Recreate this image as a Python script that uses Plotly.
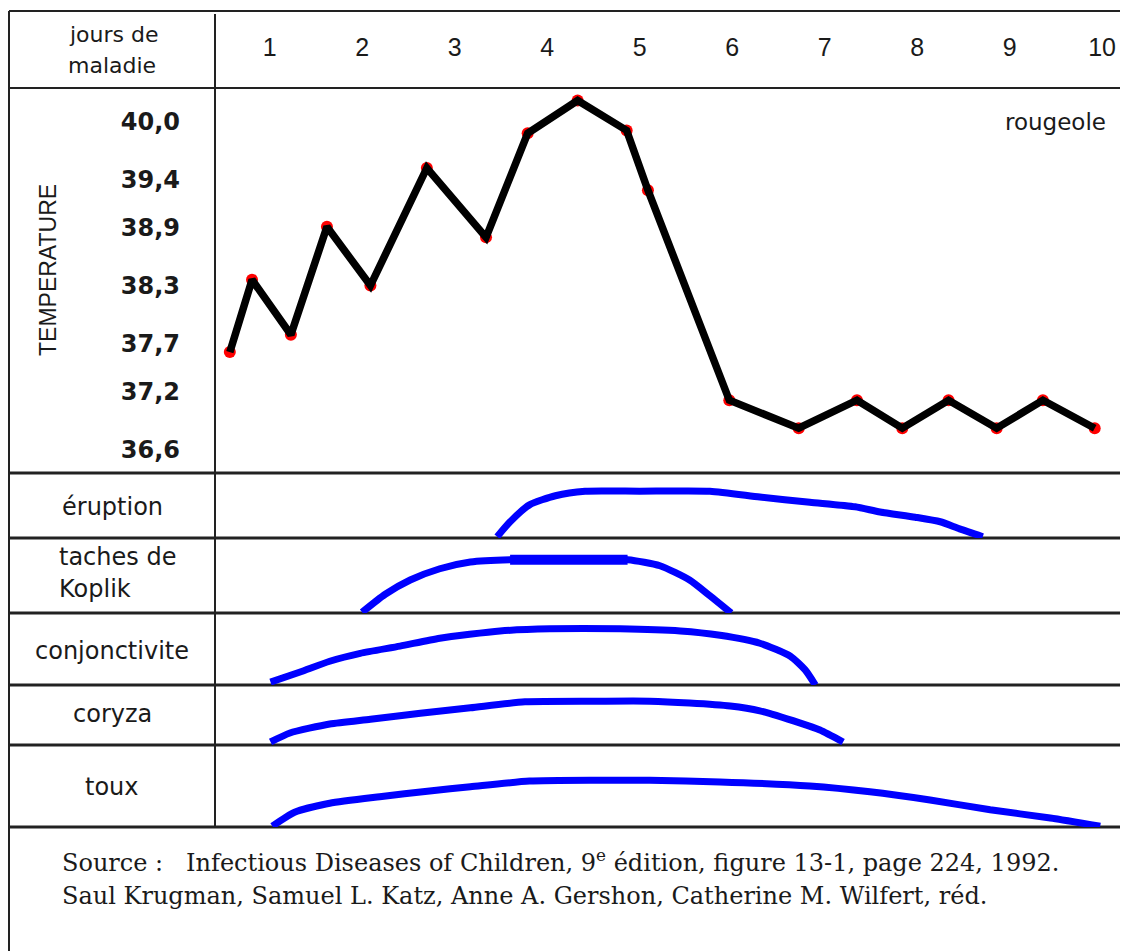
import plotly.graph_objects as go

# ---------------- data ----------------
days = [1, 2, 3, 4, 5, 6, 7, 8, 9, 10]
day_labels = ["1", "2", "3", "4", "5", "6", "7", "8", "9", "10"]

temp_ticks = [36.6, 37.2, 37.7, 38.3, 38.9, 39.4, 40.0]
temp_tick_labels = ["36,6", "37,2", "37,7", "38,3", "38,9", "39,4", "40,0"]

temp_day = [0.57, 0.81, 1.23, 1.62, 2.09, 2.70, 3.34, 3.79, 4.33, 4.86, 5.09,
            5.97, 6.72, 7.35, 7.84, 8.34, 8.86, 9.36, 9.92]
temp_val = [37.61, 38.36, 37.79, 38.91, 38.30, 39.52, 38.80, 39.88, 40.22, 39.91, 39.29,
            37.11, 36.82, 37.11, 36.82, 37.11, 36.82, 37.11, 36.82]

eruption_day = [3.46, 3.60, 3.81, 4.09, 4.41, 5.00, 5.76, 6.30, 6.84, 7.33, 7.60, 7.98, 8.25, 8.46, 8.71]
eruption_lvl = [0.02, 0.25, 0.51, 0.65, 0.72, 0.72, 0.72, 0.63, 0.55, 0.48, 0.40, 0.32, 0.25, 0.14, 0.02]

koplik_day = [2.00, 2.25, 2.52, 2.84, 3.17, 3.60, 4.14, 4.87, 5.22, 5.54, 5.76, 5.99]
koplik_lvl = [0.01, 0.25, 0.44, 0.59, 0.68, 0.71, 0.71, 0.71, 0.63, 0.44, 0.23, 0.00]
koplik_peak_day = [3.60, 4.14, 4.87]
koplik_peak_lvl = [0.71, 0.71, 0.71]

conj_day = [1.01, 1.33, 1.65, 1.98, 2.41, 2.84, 3.49, 4.03, 4.79, 5.44, 5.87, 6.30, 6.63, 6.79, 6.90]
conj_lvl = [0.04, 0.18, 0.33, 0.44, 0.54, 0.65, 0.75, 0.78, 0.78, 0.75, 0.69, 0.58, 0.40, 0.21, 0.00]

coryza_day = [1.01, 1.22, 1.65, 2.09, 2.63, 3.17, 3.76, 4.57, 5.11, 5.54, 5.98, 6.30, 6.73, 6.95, 7.20]
coryza_lvl = [0.05, 0.20, 0.35, 0.43, 0.53, 0.62, 0.72, 0.73, 0.73, 0.70, 0.65, 0.57, 0.37, 0.25, 0.05]

toux_day = [1.03, 1.27, 1.65, 2.19, 2.73, 3.17, 3.81, 4.57, 5.11, 5.87, 6.84, 7.49, 8.14, 8.79, 9.44, 9.98]
toux_lvl = [0.01, 0.18, 0.29, 0.37, 0.44, 0.49, 0.56, 0.57, 0.57, 0.55, 0.50, 0.43, 0.33, 0.21, 0.11, 0.01]

symptom_labels = ["éruption", "taches de", "Koplik", "conjonctivite", "coryza", "toux"]

# ---------------- layout helpers ----------------
W, H = 1128, 951
OFF = 8  # page body margin in the browser


def px(x):
    return (x - OFF) / W


def py(y):
    return 1 - (y - OFF) / H


LEFT = 215
DAY1_X, DAY_W = 269.6, 92.5
rows = [88, 473, 538, 613, 685, 745, 827]  # horizontal rule positions (screen px)

FONT = "DejaVu Sans"
TXT = "#1a1a1a"
BLUE = "#0000ff"

fig = go.Figure()

# temperature: red dots under black line
fig.add_trace(go.Scatter(x=temp_day, y=temp_val, mode="markers", xaxis="x", yaxis="y",
                         marker=dict(color="#ff0000", size=12), hoverinfo="skip", showlegend=False))
fig.add_trace(go.Scatter(x=temp_day, y=temp_val, mode="lines", xaxis="x", yaxis="y",
                         line=dict(color="#000000", width=7.5), showlegend=False))

curves = [
    (eruption_day, eruption_lvl, "y2"),
    (koplik_day, koplik_lvl, "y3"),
    (conj_day, conj_lvl, "y4"),
    (coryza_day, coryza_lvl, "y5"),
    (toux_day, toux_lvl, "y6"),
]
for d, l, ya in curves:
    fig.add_trace(go.Scatter(x=d, y=l, mode="lines", xaxis="x", yaxis=ya,
                             line=dict(color=BLUE, width=7, shape="spline", smoothing=0.6),
                             showlegend=False))
fig.add_trace(go.Scatter(x=koplik_peak_day, y=koplik_peak_lvl, mode="lines", xaxis="x", yaxis="y3",
                         line=dict(color=BLUE, width=10), showlegend=False))

x_range = [1 + (LEFT - DAY1_X) / DAY_W, 1 + (W + OFF - DAY1_X) / DAY_W]

layout = dict(
    width=W, height=H,
    margin=dict(l=0, r=0, t=0, b=0),
    paper_bgcolor="white", plot_bgcolor="rgba(0,0,0,0)",
    showlegend=False,
    xaxis=dict(domain=[px(LEFT), 1], range=x_range, side="top", anchor="y",
               tickmode="array", tickvals=days, ticktext=day_labels,
               ticks="", showgrid=False, zeroline=False, showline=False,
               tickfont=dict(family="Liberation Sans", size=25, color=TXT), ticklabelstandoff=26),
    yaxis=dict(domain=[py(rows[1]), py(rows[0])], range=[36.355, 40.35], anchor="x",
               tickmode="array", tickvals=temp_ticks, ticktext=temp_tick_labels,
               ticks="", showgrid=False, zeroline=False, showline=False,
               tickfont=dict(family=FONT, size=24, color=TXT, weight="bold"),
               ticklabelstandoff=34),
)
for i in range(5):
    layout["yaxis%d" % (i + 2)] = dict(domain=[py(rows[i + 2]), py(rows[i + 1])], range=[0, 1],
                                       anchor="x", showticklabels=False, ticks="",
                                       showgrid=False, zeroline=False, showline=False)
fig.update_layout(**layout)

# table rules
line_c = "#222222"
shapes = []
shapes.append(dict(type="line", xref="paper", yref="paper", x0=px(9), x1=px(9), y0=py(11), y1=0,
                   line=dict(color=line_c, width=2), layer="below"))
shapes.append(dict(type="line", xref="paper", yref="paper", x0=px(9), x1=1, y0=py(11), y1=py(11),
                   line=dict(color=line_c, width=2), layer="below"))
shapes.append(dict(type="line", xref="paper", yref="paper", x0=px(LEFT), x1=px(LEFT), y0=py(14), y1=py(827),
                   line=dict(color=line_c, width=2), layer="below"))
for j, r in enumerate(rows):
    shapes.append(dict(type="line", xref="paper", yref="paper", x0=px(9), x1=1, y0=py(r), y1=py(r),
                       line=dict(color=line_c, width=2 if j == 0 else 3), layer="below"))
fig.update_layout(shapes=shapes)

ann = []


def add_text(t, x, y, size=24, xanchor="center", family=FONT, angle=0, color=TXT):
    ann.append(dict(text=t, x=px(x), y=py(y), xref="paper", yref="paper", showarrow=False,
                    xanchor=xanchor, yanchor="middle", textangle=angle,
                    font=dict(family=family, size=size, color=color)))


add_text("jours de", 114, 34, size=22)
add_text("maladie", 112, 66, size=22)
add_text("TEMPERATURE", 48, 270, size=23, angle=-90, family="Liberation Sans")
add_text("rougeole", 1108, 122, size=23, xanchor="right")
add_text(symptom_labels[0], 112, 507)
add_text(symptom_labels[1], 57, 557, xanchor="left")
add_text(symptom_labels[2], 57, 589, xanchor="left")
add_text(symptom_labels[3], 112, 651)
add_text(symptom_labels[4], 112, 714)
add_text(symptom_labels[5], 112, 787)
add_text("Source :   Infectious Diseases of Children, 9<sup>e</sup> édition, figure 13-1, page 224, 1992.",
         60, 861, size=24, xanchor="left", family="DejaVu Serif")
add_text("Saul Krugman, Samuel L. Katz, Anne A. Gershon, Catherine M. Wilfert, réd.",
         60, 896, size=24, xanchor="left", family="DejaVu Serif")
fig.update_layout(annotations=ann)

fig.write_html("out.html")
